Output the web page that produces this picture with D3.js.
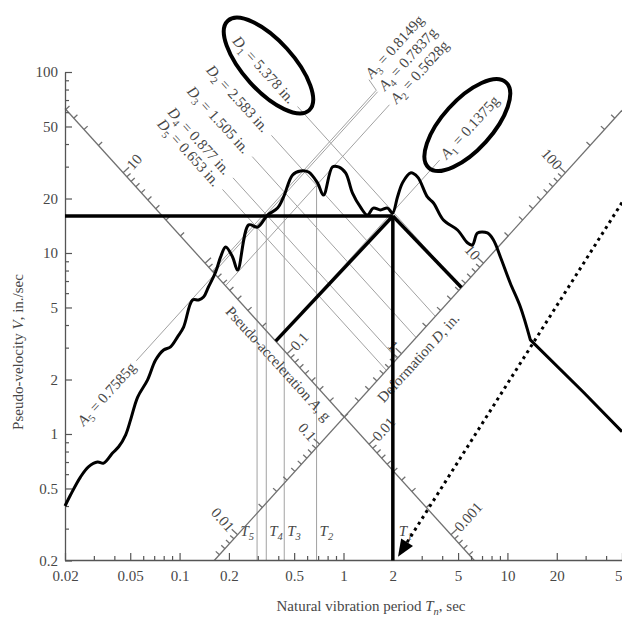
<!DOCTYPE html>
<html>
<head>
<meta charset="utf-8">
<script src="https://cdn.jsdelivr.net/npm/d3@7"></script>
<style>
body { margin: 0; background: #fff; }
svg { display: block; font-family: "Liberation Serif", "Times New Roman", serif; }
</style>
</head>
<body>
<svg id="chart" width="622" height="618"></svg>
<script>
//////////////////////////////////////
// Data

const periodTicks = [0.02, 0.05, 0.1, 0.2, 0.5, 1, 2, 5, 10, 20, 50]
const velocityTicks = [0.2, 0.5, 1, 2, 5, 10, 20, 50, 100]
const accelLabels = [10, 0.1, 0.01, 0.001]
const deformLabels = [0.01, 0.1, 1, 10, 100]

// response spectrum (T sec, V in/sec)
const specT = [0.02, 0.0216, 0.0249, 0.0279, 0.0316, 0.0344, 0.039, 0.0425, 0.0469, 0.0503,
  0.0555, 0.0638, 0.0714, 0.0799, 0.0881, 0.0972, 0.1058, 0.120, 0.1306, 0.140,
  0.150, 0.166, 0.178, 0.191, 0.2105, 0.226, 0.264, 0.299, 0.344, 0.396,
  0.431, 0.489, 0.547, 0.612, 0.694, 0.755, 0.857, 0.932, 1.03, 1.135,
  1.27, 1.40, 1.52, 1.68, 1.855, 1.99, 2.135, 2.29, 2.56, 2.83,
  3.25, 3.54, 4.07, 4.96, 5.70, 6.12, 6.57, 7.55, 8.22, 9.06,
  10.4, 12.0, 13.8, 29.1, 50]
const specV = [0.40, 0.46, 0.58, 0.66, 0.70, 0.69, 0.785, 0.85, 0.99, 1.2,
  1.6, 1.99, 2.56, 2.91, 3.03, 3.44, 3.9, 5.5, 5.5, 5.71,
  6.49, 7.85, 9.51, 10.8, 9.51, 8.05, 14.3, 13.9, 16.2, 17.7,
  20.4, 27.0, 28.4, 28.0, 24.4, 20.9, 29.9, 29.9, 27.7, 21.4,
  17.9, 16.2, 17.7, 17.3, 17.7, 16.6, 20.4, 24.4, 27.7, 26.3,
  20.4, 18.9, 15.2, 13.4, 11.4, 11.1, 12.9, 12.9, 11.8, 9.51,
  6.83, 5.03, 3.31, 1.70, 1.03]
const kinkT = 13.8   // straight tail after this period

// modes
const modeNo = ['1', '2', '3', '4', '5']
const modeT = [2.0, 0.685, 0.435, 0.338, 0.297]
const modeD = [5.378, 2.583, 1.505, 0.877, 0.653]
const modeA = [0.1375, 0.5628, 0.8149, 0.7837, 0.7585]
const modeAtxt = ['0.1375', '0.5628', '0.8149', '0.7837', '0.7585']
const modeDtxt = ['5.378', '2.583', '1.505', '0.877', '0.653']

// hand drawn reading lines for mode 1 + dotted arrow
const readV = 16
const arrowT = [50, 2.15]
const arrowV = [19, 0.21]

//////////////////////////////////////
// Parameters

const gIn = 386.1     // in/sec^2
const axisD = 0.2     // acceleration scale drawn along this D line
const axisA = 0.02    // deformation scale drawn along this A line
const grey = '#a2a2a2'
const ink = '#474747'
const fs = 15

const x = d3.scaleLog().domain([0.02, 50]).range([65, 622])
const y = d3.scaleLog().domain([0.2, 100]).range([560.5, 72])

const vD = (D, T) => 2 * Math.PI * D / T
const vA = (A, T) => A * gIn * T / (2 * Math.PI)
const tAD = (A, D) => 2 * Math.PI * Math.sqrt(D / (A * gIn))
const pD = (D, T) => [x(T), y(vD(D, T))]
const pA = (A, T) => [x(T), y(vA(A, T))]

const ang = Math.atan2(y(1) - y(10), x(10) - x(1))
const deg = ang * 180 / Math.PI
const c = Math.cos(ang), s = Math.sin(ang)
const uDn = [c, s], uUp = [c, -s]
const nA = [s, -c]    // off the A scale, up-right
const nD = [-s, -c]   // off the D scale, up-left
const add = (p, v, k) => [p[0] + v[0] * k, p[1] + v[1] * k]

const svg = d3.select('#chart')

function seg(g, a, b) {
  return g.append('line').attr('x1', a[0]).attr('y1', a[1]).attr('x2', b[0]).attr('y2', b[1])
}

// text with italic letter + subscript
function rich(g, p, rot, anchor, parts, size) {
  size = size || fs
  const t = g.append('text')
    .attr('transform', 'translate(' + p[0] + ',' + p[1] + ') rotate(' + rot + ')')
    .attr('text-anchor', anchor).attr('dy', '0.35em')
    .attr('font-size', size).attr('fill', ink)
  let shift = 0
  parts.forEach(function(q) {
    const ts = t.append('tspan').text(q.t)
    if (q.i) ts.attr('font-style', 'italic')
    if (q.sub) { ts.attr('font-size', size * 0.7).attr('dy', 4); shift = 4 }
    else if (shift) { ts.attr('dy', -shift); shift = 0 }
  })
  return t
}

//////////////////////////////////////
// Grey mode lines

const grid = svg.append('g').attr('stroke', grey).attr('stroke-width', 1).attr('fill', 'none')
const labels = svg.append('g')

modeNo.forEach(function(n, i) {
  const T = modeT[i], D = modeD[i], A = modeA[i]
  // period line
  seg(grid, [x(T), y(0.2)], [x(T), y(vD(D, T))])
  // deformation line, label down to D scale
  seg(grid, pD(D, tAD(2.0, D)), pD(D, tAD(axisA, D)))
  const dl = rich(labels, pD(D, tAD(2.3, D)), deg, 'end',
    [{t: 'D', i: true}, {t: n, sub: true}, {t: ' = ' + modeDtxt[i] + ' in.'}])
  if (i == 0) ringAround(dl, pD(D, tAD(2.3, D)), uDn, -1, nA, 6)

  // acceleration line, label down to A scale
  if (n == '5') {
    seg(grid, pA(A, tAD(A, 0.022)), pA(A, tAD(A, axisD)))
    rich(labels, pA(A, tAD(A, 0.02)), -deg, 'end',
      [{t: 'A', i: true}, {t: n, sub: true}, {t: ' = ' + modeAtxt[i] + 'g'}])
  } else {
    const start = pA(A, tAD(A, 20))
    seg(grid, start, pA(A, tAD(A, axisD)))
    let lp = pA(A, tAD(A, 22))
    if (n == '3') {
      lp = add(lp, nD, 16)
      seg(grid, add(lp, [0.3, 1], 4), start)
    }
    const al = rich(labels, lp, -deg, 'start',
      [{t: 'A', i: true}, {t: n, sub: true}, {t: ' = ' + modeAtxt[i] + 'g'}])
    if (i == 0) ringAround(al, lp, uUp, 1, nD, 3)
  }
  // T label
  const side = n == '5' ? -1 : 1
  rich(labels, [x(T) + side * (n == '1' ? 6 : 3), y(0.2) - 30], 0, side < 0 ? 'end' : 'start',
    [{t: 'T', i: true}, {t: n, sub: true, i: true}])
})

function ringAround(t, p, dir, k, off, offLen) {
  const len = t.node().getComputedTextLength()
  const ctr = add(add(p, dir, k * len / 2), off, offLen)
  svg.append('ellipse')
    .attr('transform', 'translate(' + ctr[0] + ',' + ctr[1] + ') rotate(' + (dir[1] > 0 ? deg : -deg) + ')')
    .attr('rx', len / 2 + 18).attr('ry', 25)
    .attr('fill', 'none').attr('stroke', '#000').attr('stroke-width', 4)
}

labels.raise()

//////////////////////////////////////
// Diagonal scales

const diag = svg.append('g').attr('stroke', '#707070').attr('stroke-width', 1.3).attr('fill', 'none')
const diagTxt = svg.append('g')

// acceleration scale on D = axisD
seg(diag, pD(axisD, 0.02), pD(axisD, 2 * Math.PI * axisD / 0.2))
for (let e = -4; e <= 2; e++) {
  for (let k = 1; k <= 9; k++) {
    const A = k * Math.pow(10, e)
    const T = tAD(A, axisD)
    if (T < 0.02 || vD(axisD, T) < 0.2) continue
    const p = pD(axisD, T)
    seg(diag, p, add(p, nA, k == 1 ? 8 : 5))
  }
}
accelLabels.forEach(function(A) {
  const p = pD(axisD, tAD(A, axisD))
  rich(diagTxt, add(p, nA, 8), -deg, 'start', [{t: String(A)}])
})
rich(diagTxt, add(pD(axisD, 0.459), nA, -13), deg, 'middle',
  [{t: 'Pseudo-acceleration '}, {t: 'A', i: true}, {t: ', g'}])

// deformation scale on A = axisA
const tLo = 0.2 * 2 * Math.PI / (axisA * gIn)
seg(diag, pA(axisA, tLo), pA(axisA, 50))
for (let e = -3; e <= 2; e++) {
  for (let k = 1; k <= 9; k++) {
    const D = k * Math.pow(10, e)
    const T = tAD(axisA, D)
    if (T < tLo || T > 50) continue
    const p = pA(axisA, T)
    seg(diag, p, add(p, nD, k == 1 ? 8 : 5))
  }
}
deformLabels.forEach(function(D) {
  const p = pA(axisA, tAD(axisA, D))
  rich(diagTxt, add(p, nD, 8), deg, 'end', [{t: String(D)}])
})
rich(diagTxt, add(pA(axisA, 2.44), nD, -15), -deg, 'middle',
  [{t: 'Deformation '}, {t: 'D', i: true}, {t: ', in.'}])

//////////////////////////////////////
// Main axes

function minors(lo, hi, skip) {
  const out = []
  for (let e = -2; e <= 2; e++) for (let k = 1; k <= 9; k++) {
    const v = +(k * Math.pow(10, e)).toPrecision(3)
    if (v >= lo && v <= hi && skip.indexOf(v) < 0) out.push(v)
  }
  return out
}

function styleAxis(g) {
  g.attr('font-family', null).attr('font-size', null)
  g.selectAll('.domain').attr('stroke', '#555').attr('stroke-width', 1.3)
  g.selectAll('.tick line').attr('stroke', '#555').attr('stroke-width', 1.2)
  g.selectAll('.tick text').attr('fill', ink).attr('font-size', fs)
}

const yAx = svg.append('g').attr('transform', 'translate(65,0)')
yAx.call(d3.axisLeft(y).tickValues(velocityTicks).tickFormat(d3.format('')).tickSizeInner(-7).tickSizeOuter(0).tickPadding(7))
yAx.append('g').call(d3.axisLeft(y).tickValues(minors(0.2, 100, velocityTicks)).tickFormat('').tickSizeInner(-4).tickSizeOuter(0))
  .select('.domain').remove()
styleAxis(yAx)

const xAx = svg.append('g').attr('transform', 'translate(0,560)')
xAx.call(d3.axisBottom(x).tickValues(periodTicks).tickFormat(d3.format('')).tickSizeInner(-7).tickSizeOuter(0).tickPadding(10))
xAx.append('g').call(d3.axisBottom(x).tickValues(minors(0.02, 50, periodTicks)).tickFormat('').tickSizeInner(-4).tickSizeOuter(0))
  .select('.domain').remove()
styleAxis(xAx)

rich(svg, [18, 352], -90, 'middle', [{t: 'Pseudo-velocity '}, {t: 'V', i: true}, {t: ', in./sec'}])
rich(svg, [371, 606], 0, 'middle', [{t: 'Natural vibration period '}, {t: 'T', i: true}, {t: 'n', sub: true, i: true}, {t: ', sec'}])

//////////////////////////////////////
// Spectrum

const spec = specT.map((t, i) => [t, specV[i]])
const smooth = d3.line().x(d => x(d[0])).y(d => y(d[1])).curve(d3.curveCatmullRom.alpha(0.5))
const straight = d3.line().x(d => x(d[0])).y(d => y(d[1]))
svg.append('path')
  .attr('d', smooth(spec.filter(d => d[0] <= kinkT)) + straight(spec.filter(d => d[0] >= kinkT)).replace('M', 'L'))
  .attr('fill', 'none').attr('stroke', '#000').attr('stroke-width', 3)
  .attr('stroke-linejoin', 'round')

//////////////////////////////////////
// Reading lines

const ann = svg.append('g').attr('stroke', '#000').attr('stroke-width', 3.5).attr('fill', 'none')
const apex = [x(modeT[0]), y(readV)]
seg(ann, [x(0.02), apex[1]], apex)
seg(ann, apex, [apex[0], y(0.2)])
seg(ann, pA(modeA[0], tAD(modeA[0], axisD)), apex)
seg(ann, apex, pD(modeD[0], tAD(axisA, modeD[0])))

// dotted arrow
const a0 = [x(arrowT[0]), y(arrowV[0])], a1 = [x(arrowT[1]), y(arrowV[1])]
const aLen = Math.hypot(a1[0] - a0[0], a1[1] - a0[1])
const ad = [(a1[0] - a0[0]) / aLen, (a1[1] - a0[1]) / aLen]
const headL = 17, headW = 7
const base = add(a1, ad, -headL)
seg(svg, a0, base).attr('stroke', '#000').attr('stroke-width', 3).attr('stroke-dasharray', '3,4')
svg.append('path')
  .attr('d', d3.line()([a1, add(base, [-ad[1], ad[0]], headW), add(base, [ad[1], -ad[0]], headW)]) + 'Z')
  .attr('fill', '#000')
</script>
</body>
</html>
